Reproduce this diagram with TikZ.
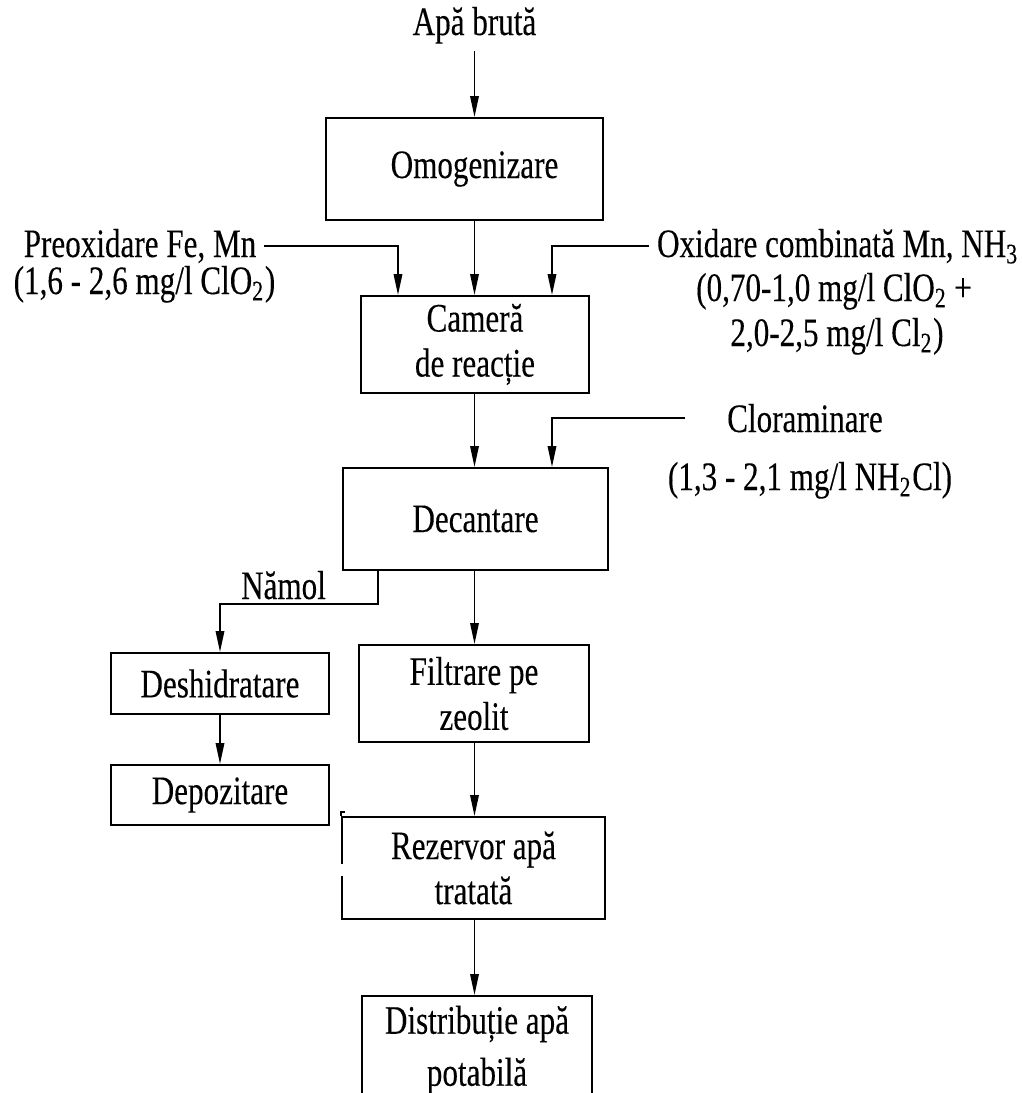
\documentclass[tikz,border=0pt]{standalone}
\usepackage{fontspec}
\setmainfont{Liberation Serif}[FakeStretch=0.77,FakeBold=0.2]
\usetikzlibrary{positioning,arrows.meta,calc}

\begin{document}
\begin{tikzpicture}[x=1cm,y=-1cm,
  every node/.style={font=\fontsize{11.5}{12.8}\selectfont},
  box/.style={draw,line width=0.55pt,inner sep=0pt,align=center},
  lbl/.style={inner sep=2pt,anchor=base},
  flow/.style={line width=0.5pt,-{Triangle[length=2.1mm,width=0.85mm]}}]
\useasboundingbox (0,0) rectangle (10.22,10.93);
\coordinate (ax) at (4.745,0);
\node[lbl] (apa) at (4.745,0.35) {Apă brută};
\node[box,minimum width=2.77cm,minimum height=1.02cm] (omog) at (4.645,1.69) {\hspace*{2mm}Omogenizare};
\node[box,minimum width=2.28cm,minimum height=0.97cm] (camera) at (4.75,3.445) {Cameră\\de reacție};
\node[box,minimum width=2.65cm,minimum height=1.02cm] (decant) at (4.755,5.19) {Decantare};
\node[box,minimum width=2.30cm,minimum height=0.97cm] (filtr) at (4.74,6.935) {Filtrare pe\\zeolit};
\node[box,minimum width=2.63cm,minimum height=1.02cm] (rezerv) at (4.735,8.68) {Rezervor apă\\tratată};
\node[box,minimum width=2.30cm,minimum height=1.08cm] (distr) at (4.77,10.50) {Distribuție apă\\[2pt]potabilă};
\node[box,minimum width=2.18cm,minimum height=0.61cm] (deshid) at (2.20,6.835) {Deshidratare};
\node[box,minimum width=2.18cm,minimum height=0.60cm] (depoz) at (2.20,7.95) {Depozitare};
\node[lbl] (preox) at (1.40,2.57) {Preoxidare Fe, Mn};
\node[lbl] (preoxdoza) at (1.445,2.94) {(1,6 - 2,6 mg/l ClO\textsubscript{2})};
\node[lbl] (oxid) at (8.38,2.57) {Oxidare combinată Mn, NH\textsubscript{3}};
\node[lbl] (oxiddoza) at (8.34,3.01) {(0,70-1,0 mg/l ClO\textsubscript{2}\,+};
\node[lbl] (oxiddozb) at (8.37,3.46) {2,0-2,5 mg/l Cl\textsubscript{2})};
\node[lbl] (clor) at (8.05,4.32) {Cloraminare};
\node[lbl] (clordoza) at (8.10,4.90) {(1,3 - 2,1 mg/l NH\textsubscript{2}Cl)};
\node[lbl] (namol) at (2.835,5.99) {Nămol};
\draw[flow] (apa.south) -- (apa.south |- omog.north);
\draw[flow] (omog.south -| ax) -- (camera.north -| ax);
\draw[flow] (camera.south -| ax) -- (decant.north -| ax);
\draw[flow] (decant.south -| ax) -- (filtr.north -| ax);
\draw[flow] (filtr.south -| ax) -- (rezerv.north -| ax);
\draw[flow] (rezerv.south -| ax) -- (distr.north -| ax);
\draw[flow] (preox.east) -| ([xshift=-7.7mm]camera.north);
\draw[flow] (oxid.west) -| ([xshift=7.7mm]camera.north);
\draw[flow] ([xshift=-3.4mm]clor.west) -| ([xshift=7.65mm]decant.north);
\draw[flow] ([xshift=-9.75mm]decant.south) -- ++(0,0.33) -| (deshid.north);
\draw[flow] (deshid) -- (depoz);
\draw[line width=0.55pt] ([shift={(0.04,-0.04)}]rezerv.north west) -- ([shift={(0,-0.04)}]rezerv.north west) -- (rezerv.north west);
\fill[white] ([shift={(-0.03,0.48)}]rezerv.north west) rectangle ([shift={(0.03,0.60)}]rezerv.north west);
\end{tikzpicture}
\end{document}
